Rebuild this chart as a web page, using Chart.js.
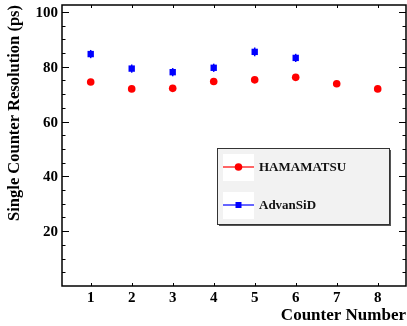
<!DOCTYPE html>
<html>
<head>
<meta charset="utf-8">
<script src="https://cdn.jsdelivr.net/npm/chart.js@4"></script>
<style>
  html, body { margin: 0; padding: 0; background: #fff; overflow: hidden; }
  canvas { display: block; }
</style>
</head>
<body>
<canvas id="c" width="407" height="326"></canvas>
<script>
// chart values
const counters = [1, 2, 3, 4, 5, 6, 7, 8];
const hamamatsu = [74.4, 71.9, 72.1, 74.6, 75.2, 76.1, 73.8, 71.9];
const advansid = [84.6, 79.3, 78.0, 79.6, 85.4, 83.2];
const advansidErr = [1.5, 1.5, 1.5, 1.5, 1.6, 1.5];
const yTicks = [20, 40, 60, 80, 100];

const FONT = '"Liberation Serif", "DejaVu Serif", serif';

function points(xs, ys) {
  return ys.map((y, i) => ({ x: xs[i], y: y }));
}

// ROOT-style frame: inward ticks, tick labels, error bars and legend box
const rootFrame = {
  id: 'rootFrame',
  beforeDatasetsDraw(chart) {
    const ctx = chart.ctx;
    const xs = chart.scales.x, ys = chart.scales.y;

    // error bars for AdvanSiD
    ctx.save();
    ctx.strokeStyle = '#0000ff';
    ctx.lineWidth = 1.5;
    advansid.forEach((v, i) => {
      const px = xs.getPixelForValue(counters[i]);
      ctx.beginPath();
      ctx.moveTo(px, ys.getPixelForValue(v - advansidErr[i]));
      ctx.lineTo(px, ys.getPixelForValue(v + advansidErr[i]));
      ctx.stroke();
    });
    ctx.restore();
  },
  afterDraw(chart) {
    const ctx = chart.ctx;
    const a = chart.chartArea;
    const xs = chart.scales.x, ys = chart.scales.y;
    ctx.save();
    ctx.strokeStyle = '#000';
    ctx.lineWidth = 1.5;
    ctx.strokeRect(a.left, a.top, a.right - a.left, a.bottom - a.top);

    ctx.lineWidth = 1;
    ctx.beginPath();
    // y ticks (major every 20, minor every 5), left and right
    for (let v = 5; v <= 100; v += 5) {
      const py = Math.round(ys.getPixelForValue(v)) + 0.5;
      const len = v % 20 === 0 ? 7 : 3.5;
      ctx.moveTo(a.left, py); ctx.lineTo(a.left + len, py);
      ctx.moveTo(a.right, py); ctx.lineTo(a.right - len, py);
    }
    // x ticks, bottom and top
    counters.forEach(c => {
      const px = Math.round(xs.getPixelForValue(c)) + 0.5;
      ctx.moveTo(px, a.bottom); ctx.lineTo(px, a.bottom - 3);
      ctx.moveTo(px, a.top); ctx.lineTo(px, a.top + 3);
    });
    ctx.stroke();

    // tick labels
    ctx.fillStyle = '#000';
    ctx.font = 'bold 15px ' + FONT;
    ctx.textBaseline = 'alphabetic';
    ctx.textAlign = 'right';
    yTicks.forEach(v => {
      ctx.fillText(String(v), a.left - 4, ys.getPixelForValue(v) + 5);
    });
    ctx.textAlign = 'center';
    counters.forEach(c => {
      ctx.fillText(String(c), xs.getPixelForValue(c), a.bottom + 16);
    });

    // legend box
    const bx = 217, by = 148, bw = 172, bh = 76;
    ctx.fillStyle = '#555';
    ctx.fillRect(bx + 2, by + 2, bw, bh);
    ctx.fillStyle = '#f2f2f2';
    ctx.fillRect(bx, by, bw, bh);
    ctx.strokeStyle = '#333';
    ctx.lineWidth = 1;
    ctx.strokeRect(bx + 0.5, by + 0.5, bw, bh);

    const rows = chart.data.datasets.map((d, i) => ({
      label: d.label, color: d.borderColor, style: d.pointStyle, y: i === 0 ? 167 : 205
    }));
    rows.forEach(r => {
      ctx.fillStyle = '#fff';
      ctx.fillRect(223, r.y - 13, 31, 27);
      ctx.strokeStyle = r.color;
      ctx.lineWidth = 1.2;
      ctx.beginPath();
      ctx.moveTo(223, r.y); ctx.lineTo(254, r.y);
      ctx.stroke();
      ctx.fillStyle = r.color;
      if (r.style === 'circle') {
        ctx.beginPath();
        ctx.arc(238.5, r.y, 3.8, 0, Math.PI * 2);
        ctx.fill();
      } else {
        ctx.fillRect(235.5, r.y - 3, 6, 6);
      }
      ctx.fillStyle = '#111';
      ctx.font = 'bold 13px ' + FONT;
      ctx.textBaseline = 'middle';
      ctx.textAlign = 'left';
      ctx.fillText(r.label, 259, r.y + 1);
    });
    ctx.restore();
  }
};

new Chart(document.getElementById('c'), {
  type: 'scatter',
  data: {
    datasets: [
      {
        label: 'HAMAMATSU',
        data: points(counters, hamamatsu),
        backgroundColor: '#ff0000',
        borderColor: '#ff0000',
        pointStyle: 'circle',
        pointRadius: 3.8,
        pointBorderWidth: 0
      },
      {
        label: 'AdvanSiD',
        data: points(counters, advansid),
        backgroundColor: '#0000ff',
        borderColor: '#0000ff',
        pointStyle: 'rect',
        pointRadius: 4.5,
        pointBorderWidth: 0
      }
    ]
  },
  options: {
    responsive: false,
    animation: false,
    layout: { autoPadding: false, padding: { top: 5, right: 1, left: 0, bottom: 0 } },
    plugins: {
      legend: { display: false },
      tooltip: { enabled: false }
    },
    scales: {
      x: {
        type: 'linear',
        min: 0.3,
        max: 8.69,
        afterBuildTicks(scale) {
          scale.ticks = counters.map(v => ({ value: v }));
        },
        afterFit(scale) { scale.height = 40; },
        grid: { display: false, drawTicks: false },
        border: { display: false },
        ticks: { display: false },
        title: {
          display: true,
          text: 'Counter Number',
          align: 'end',
          color: '#000',
          padding: { top: 0, bottom: 0 },
          font: { family: FONT, size: 17, weight: 'bold' }
        }
      },
      y: {
        min: 0,
        max: 102.5,
        afterBuildTicks(scale) {
          scale.ticks = yTicks.map(v => ({ value: v }));
        },
        afterFit(scale) { scale.width = 62; },
        grid: { display: false, drawTicks: false },
        border: { display: false },
        ticks: { display: false },
        title: {
          display: true,
          text: 'Single Counter Resolution (ps)',
          align: 'end',
          color: '#000',
          padding: { top: 5, bottom: 0 },
          font: { family: FONT, size: 16.5, weight: 'bold' }
        }
      }
    }
  },
  plugins: [rootFrame]
});
</script>
</body>
</html>
